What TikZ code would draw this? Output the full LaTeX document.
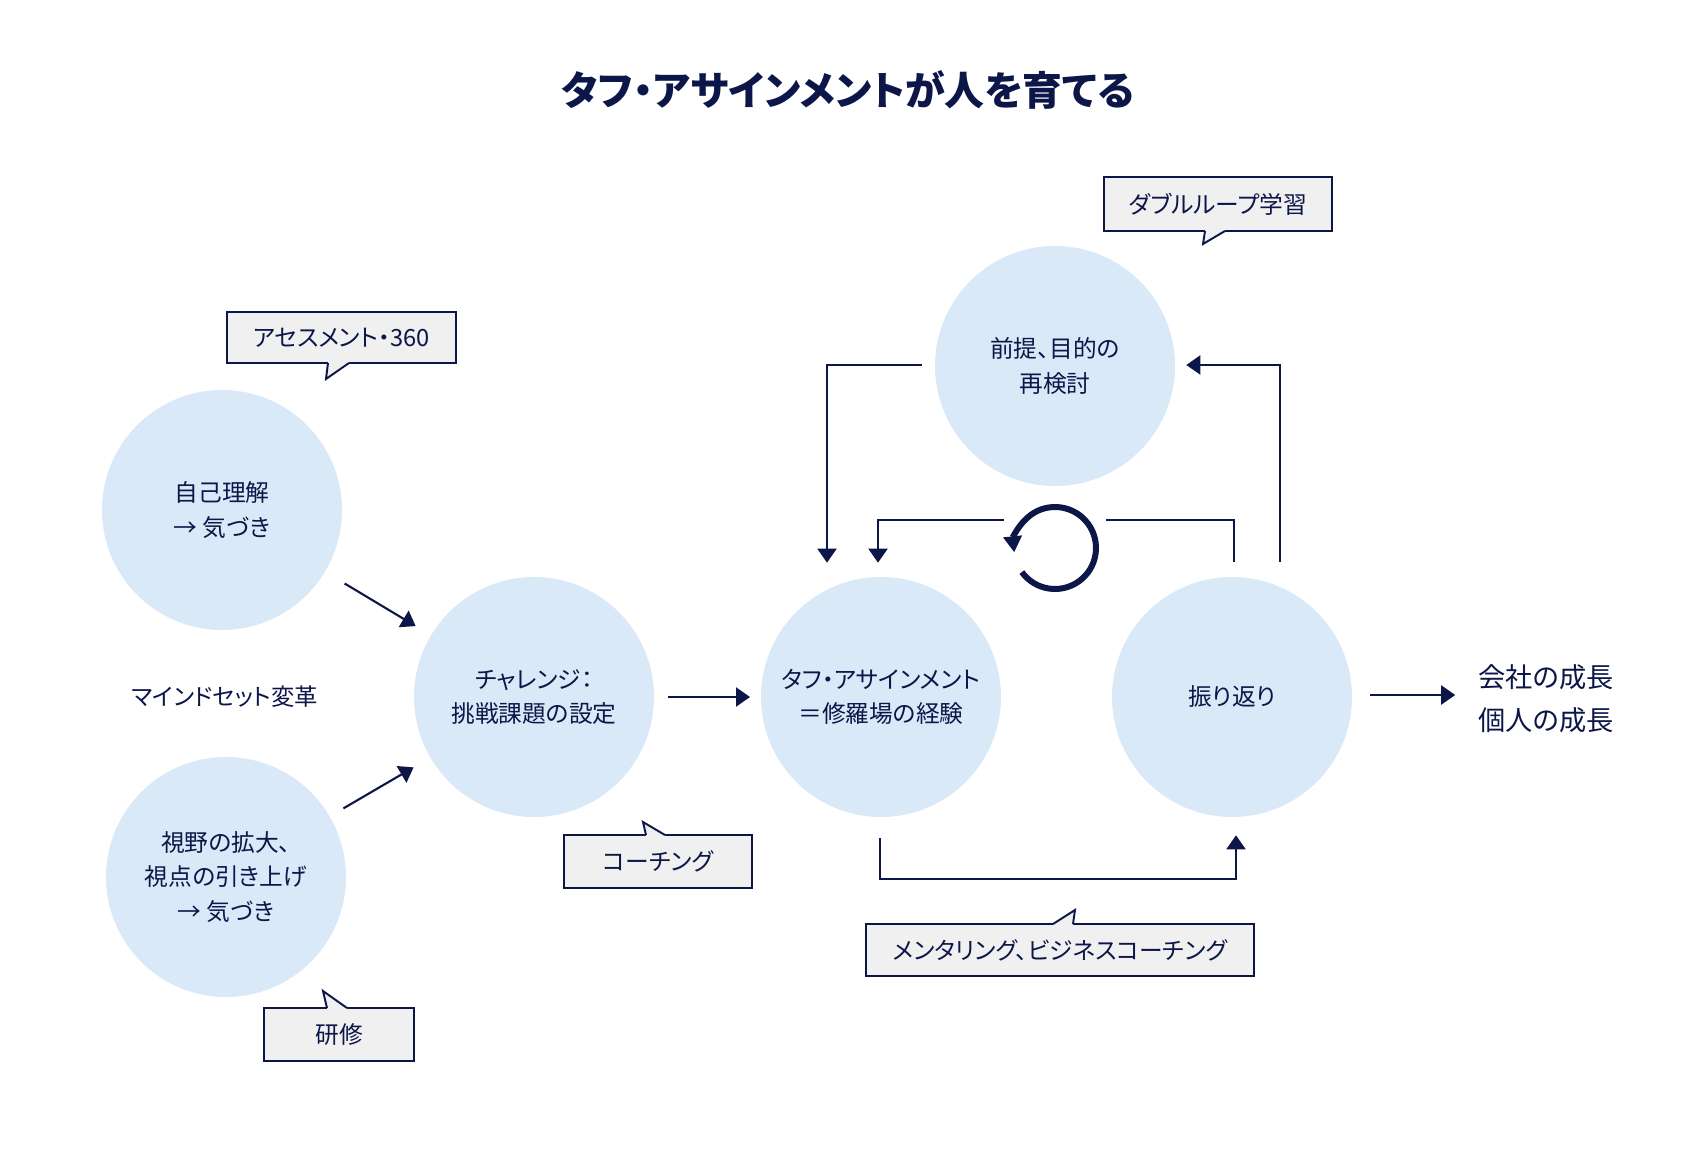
\documentclass[tikz,border=0pt]{standalone}
\usepackage{fontspec}
\setmainfont{Noto Sans CJK JP}[RawFeature=+palt]
\usetikzlibrary{arrows.meta, calc}
\definecolor{navycolor}{RGB}{12, 22, 72}
\definecolor{circlecolor}{RGB}{217, 233, 247}
\definecolor{calloutcolor}{RGB}{240, 240, 240}

\begin{document}
\begin{tikzpicture}[
    x=0.02cm, y=-0.02cm,
    % Circle styles
    bubble/.style={
        circle,
        fill=circlecolor,
        minimum size=4.8cm,
        inner sep=0pt,
        align=center,
        font=\fontsize{13.5}{19.6}\selectfont,
        text=navycolor
    },
    % Callout box style
    callout/.style={
        rectangle,
        draw=navycolor,
        line width=1.1pt,
        fill=calloutcolor,
        inner sep=0pt,
        font=\fontsize{13.5}{16}\selectfont,
        text=navycolor
    },
    tailfill/.style={fill=calloutcolor},
    tailline/.style={draw=navycolor, line width=1.1pt, line join=miter},
    % Arrow styles
    arrow/.style={
        draw=navycolor,
        line width=1.2pt,
        -{Triangle[length=0.28cm, width=0.38cm]}
    },
    plainline/.style={draw=navycolor, line width=1.2pt},
    % Free text style
    textlabel/.style={
        text=navycolor,
        align=center
    }
]

\fill[white] (0,0) rectangle (1696,1158);
\useasboundingbox (0,0) rectangle (1696,1158);

% ===== TITLE =====
\node[textlabel, font=\bfseries\fontsize{22.7}{26}\selectfont] (title) at (848,90)
    {タフ・アサインメントが人を育てる};

% ===== CIRCLES =====
\node[bubble] (self) at (222,510) {自己理解\\→ 気づき};
\node[bubble] (vision) at (226,877) {視野の拡大、\\視点の引き上げ\\→ 気づき};
\node[bubble] (challenge) at (534,697) {チャレンジ：\\挑戦課題の設定};
\node[bubble] (tough) at (881,697) {タフ・アサインメント\\＝修羅場の経験};
\node[bubble] (reflect) at (1232,697) {振り返り};
\node[bubble] (premise) at (1055,366) {前提、目的の\\再検討};

% ===== FREE TEXTS =====
\node[textlabel, font=\fontsize{13.3}{16}\selectfont] (mindset) at (225,697) {マインドセット変革};
\node[textlabel, font=\fontsize{15.5}{24.4}\selectfont] (growth) at (1546,699) {会社の成長\\個人の成長};

% ===== CALLOUTS =====
\node[callout, minimum width=4.58cm, minimum height=1.02cm] (assess) at (341.5,337.5) {アセスメント・360};
\node[callout, minimum width=3.76cm, minimum height=1.06cm] (coach) at (658,861.5) {コーチング};
\node[callout, minimum width=7.76cm, minimum height=1.04cm] (mentor) at (1060,950) {メンタリング、ビジネスコーチング};
\node[callout, minimum width=4.56cm, minimum height=1.08cm] (dloop) at (1218,204) {ダブルループ学習};
\node[callout, minimum width=3.0cm, minimum height=1.06cm] (kenshu) at (339,1034.5) {研修};

% callout tails
\fill[tailfill] (328,360) -- (328,363) -- (326,379) -- (349,363) -- (349,360) -- cycle;
\draw[tailline] (328,363) -- (326,379) -- (349,363);
\fill[tailfill] (646,838) -- (646,835) -- (643,822) -- (665,835) -- (665,838) -- cycle;
\draw[tailline] (646,835) -- (643,822) -- (665,835);
\fill[tailfill] (1053,927) -- (1053,924) -- (1075,910) -- (1073,924) -- (1073,927) -- cycle;
\draw[tailline] (1053,924) -- (1075,910) -- (1073,924);
\fill[tailfill] (1205,228) -- (1205,231) -- (1203,244) -- (1225,231) -- (1225,228) -- cycle;
\draw[tailline] (1205,231) -- (1203,244) -- (1225,231);
\fill[tailfill] (327,1011) -- (327,1008) -- (323,991) -- (347,1008) -- (347,1011) -- cycle;
\draw[tailline] (327,1008) -- (323,991) -- (347,1008);

% ===== MAIN ARROWS =====
\draw[arrow, shorten <=2.86cm, shorten >=2.76cm] (self.center) -- (challenge.center);
\draw[arrow, shorten <=2.72cm, shorten >=2.79cm] (vision.center) -- (challenge.center);
\draw[arrow, shorten <=2.68cm, shorten >=2.62cm] (challenge.center) -- (tough.center);
\draw[arrow] ($(reflect.east)+(18,-2)$) -- ($(growth.west |- reflect.east)+(-17,-2)$);

% tough -> reflect (below)
\draw[arrow] ($(tough.south)+(-1,21)$) -- ++(0,41) -| ($(reflect.south)+(4,18)$);

% ===== LOOPS =====
\coordinate (loop) at (1055,548);

% single loop
\draw[plainline] ($(reflect.north)+(2,-15)$) |- ($(loop)+(51,-28)$);
\draw[arrow] ($(loop)+(-51,-28)$) -| ($(tough.north)+(-3,-14)$);

% double loop
\draw[arrow] ($(reflect.north)+(48,-15)$) |- ($(premise.east)+(11,-1)$);
\draw[arrow] ($(premise.west)+(-13,-1)$) -| ($(tough.north)+(-54,-14)$);

% loop symbol
\draw[navycolor, line width=0.12cm, -{Triangle[length=0.32cm, width=0.36cm]}]
    ([shift={(216:0.82cm)}]loop) arc[start angle=216, delta angle=330, radius=0.82cm];

\end{tikzpicture}
\end{document}
